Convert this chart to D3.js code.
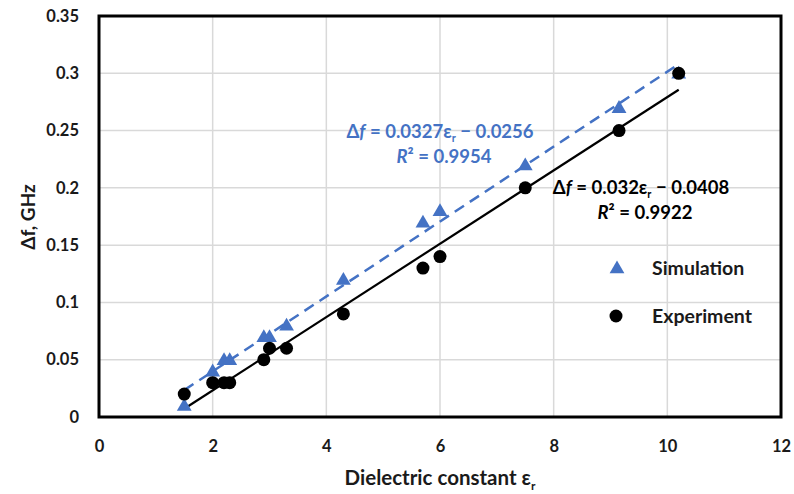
<!DOCTYPE html>
<html>
<head>
<meta charset="utf-8">
<script src="https://cdn.jsdelivr.net/npm/d3@7"></script>
<style>
  body { margin: 0; background: #fff; }
  svg { display: block; font-family: "Lato", "Open Sans", sans-serif; }
</style>
</head>
<body>
<div id="chart"></div>
<script>
// Data
const epsSim = [1.5, 2.0, 2.2, 2.3, 2.9, 3.0, 3.3, 4.3, 5.7, 6.0, 7.5, 9.15, 10.2];
const dfSim  = [0.01, 0.04, 0.05, 0.05, 0.07, 0.07, 0.08, 0.12, 0.17, 0.18, 0.22, 0.27, 0.30];
const epsExp = [1.5, 2.0, 2.2, 2.3, 2.9, 3.0, 3.3, 4.3, 5.7, 6.0, 7.5, 9.15, 10.2];
const dfExp  = [0.02, 0.03, 0.03, 0.03, 0.05, 0.06, 0.06, 0.09, 0.13, 0.14, 0.20, 0.25, 0.30];

// Linear trendlines (slope, intercept) as labelled in the chart
const fitSim = [0.0327, -0.0256];
const fitExp = [0.032, -0.0408];

const xTicks = [0, 2, 4, 6, 8, 10, 12];
const yTicks = [0, 0.05, 0.1, 0.15, 0.2, 0.25, 0.3, 0.35];
const yTickLabels = ["0", "0.05", "0.1", "0.15", "0.2", "0.25", "0.3", "0.35"];

const width = 794, height = 494;
const plot = { left: 99, right: 781, top: 16, bottom: 417 };
const blue = "#4472C4";
const textColor = "#1a1a1a";

const svg = d3.select("#chart").append("svg")
    .attr("width", width)
    .attr("height", height);

const x = d3.scaleLinear().domain([0, 12]).range([plot.left, plot.right]);
const y = d3.scaleLinear().domain([0, 0.35]).range([plot.bottom, plot.top]);

// Gridlines
svg.append("g")
    .selectAll("line")
    .data(xTicks)
    .enter().append("line")
        .attr("x1", d => x(d)).attr("x2", d => x(d))
        .attr("y1", plot.top).attr("y2", plot.bottom)
        .attr("stroke", "#d9d9d9").attr("stroke-width", 1.5);

svg.append("g")
    .selectAll("line")
    .data(yTicks)
    .enter().append("line")
        .attr("x1", plot.left).attr("x2", plot.right)
        .attr("y1", d => y(d)).attr("y2", d => y(d))
        .attr("stroke", "#d9d9d9").attr("stroke-width", 1.5);

// Axes (labels only, Excel-style)
const xAxis = svg.append("g")
    .attr("transform", `translate(0,${plot.bottom})`)
    .call(d3.axisBottom(x).tickValues(xTicks).tickSize(0).tickPadding(23).tickFormat(d3.format("d")));
const yAxis = svg.append("g")
    .attr("transform", `translate(${plot.left},0)`)
    .call(d3.axisLeft(y).tickValues(yTicks).tickSize(0).tickPadding(20)
        .tickFormat((d, i) => yTickLabels[i]));
[xAxis, yAxis].forEach(ax => {
    ax.select(".domain").remove();
    ax.selectAll("text")
        .attr("font-family", "Lato, sans-serif")
        .attr("font-size", "16.5px")
        .attr("font-weight", "bold")
        .attr("fill", textColor);
});

// Plot frame
svg.append("rect")
    .attr("x", plot.left).attr("y", plot.top)
    .attr("width", plot.right - plot.left)
    .attr("height", plot.bottom - plot.top)
    .attr("fill", "none")
    .attr("stroke", "#000")
    .attr("stroke-width", 3);

// Trendlines
const trend = (fit, xs) => {
    const lo = d3.min(xs), hi = d3.max(xs);
    return [[lo, fit[0] * lo + fit[1]], [hi, fit[0] * hi + fit[1]]];
};
const line = d3.line().x(d => x(d[0])).y(d => y(d[1]));

svg.append("path")
    .attr("d", line(trend(fitSim, epsSim)))
    .attr("fill", "none")
    .attr("stroke", blue)
    .attr("stroke-width", 2.5)
    .attr("stroke-dasharray", "11,7");

svg.append("path")
    .attr("d", line(trend(fitExp, epsExp)))
    .attr("fill", "none")
    .attr("stroke", "#000")
    .attr("stroke-width", 2.2);

// Markers
const tri = d3.symbol().type(d3.symbolTriangle).size(95);

svg.append("g")
    .selectAll("path")
    .data(epsSim.map((e, i) => [e, dfSim[i]]))
    .enter().append("path")
        .attr("d", tri)
        .attr("transform", d => `translate(${x(d[0])},${y(d[1]) + 1})`)
        .attr("fill", blue);

svg.append("g")
    .selectAll("circle")
    .data(epsExp.map((e, i) => [e, dfExp[i]]))
    .enter().append("circle")
        .attr("cx", d => x(d[0]))
        .attr("cy", d => y(d[1]))
        .attr("r", 6.5)
        .attr("fill", "#000");

// Trendline equations
const equation = (g, slope, icpt, r2, cx, cy, color) => {
    const t1 = g.append("text")
        .attr("x", cx).attr("y", cy)
        .attr("text-anchor", "middle")
        .attr("font-size", "18.5px").attr("font-weight", "bold")
        .attr("fill", color);
    t1.append("tspan").text("Δ");
    t1.append("tspan").attr("font-style", "italic").text("f");
    t1.append("tspan").text(` = ${slope}ε`);
    t1.append("tspan").attr("font-size", "11px").attr("dy", 4).text("r");
    t1.append("tspan").attr("dy", -4).text(` − ${Math.abs(icpt)}`);

    const t2 = g.append("text")
        .attr("x", cx + 4).attr("y", cy + 25)
        .attr("text-anchor", "middle")
        .attr("font-size", "18.5px").attr("font-weight", "bold")
        .attr("fill", color);
    t2.append("tspan").attr("font-style", "italic").text("R");
    t2.append("tspan").text(`² = ${r2}`);
};

const eqGroup = svg.append("g");
equation(eqGroup, fitSim[0], fitSim[1], "0.9954", 440, 138, blue);
equation(eqGroup, fitExp[0], fitExp[1], "0.9922", 641, 194, "#000");

// Legend
const legend = svg.append("g");
legend.append("path")
    .attr("d", tri)
    .attr("transform", `translate(617,269)`)
    .attr("fill", blue);
legend.append("text")
    .attr("x", 652).attr("y", 275)
    .attr("font-size", "19.5px").attr("font-weight", "bold").attr("fill", textColor)
    .text("Simulation");
legend.append("circle")
    .attr("cx", 616).attr("cy", 316).attr("r", 6.5).attr("fill", "#000");
legend.append("text")
    .attr("x", 652).attr("y", 323)
    .attr("font-size", "19.5px").attr("font-weight", "bold").attr("fill", textColor)
    .text("Experiment");

// Axis titles
const xt = svg.append("text")
    .attr("x", 440)
    .attr("y", 485)
    .attr("text-anchor", "middle")
    .attr("font-size", "20.5px").attr("font-weight", "bold").attr("fill", textColor);
xt.append("tspan").text("Dielectric constant ε");
xt.append("tspan").attr("font-size", "12px").attr("dy", 5).text("r");

svg.append("text")
    .attr("transform", `translate(35,217) rotate(-90)`)
    .attr("text-anchor", "middle")
    .attr("font-size", "19px").attr("font-weight", "bold").attr("fill", textColor)
    .text("Δf, GHz");
</script>
</body>
</html>
